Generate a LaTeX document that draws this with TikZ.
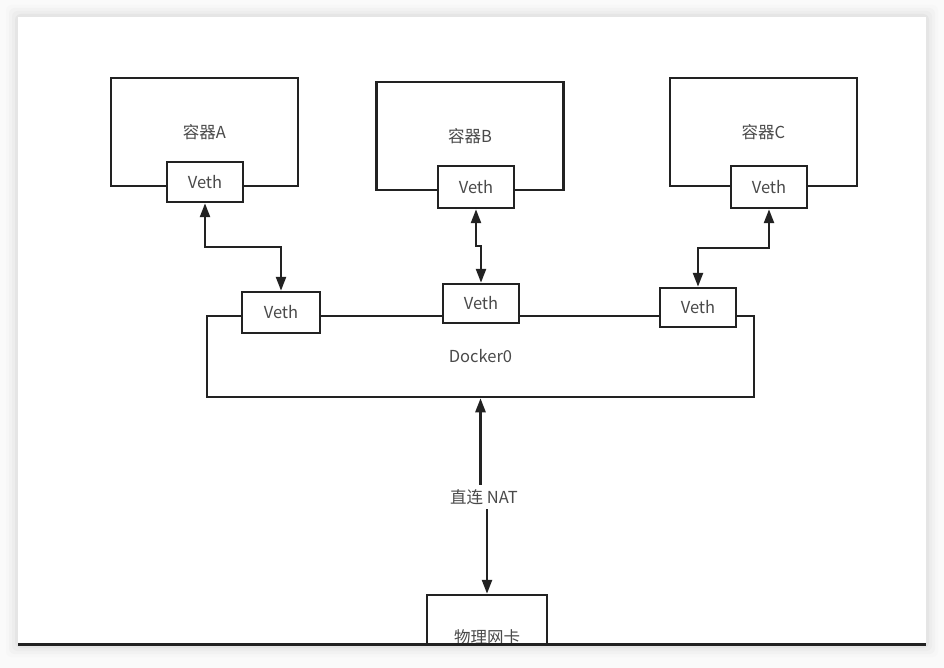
\documentclass[tikz,border=0pt]{standalone}
\usepackage{fontspec}
\setmainfont{Noto Sans CJK SC}
\usetikzlibrary{calc,arrows.meta,positioning}
\definecolor{lineGray}{HTML}{222222}
\definecolor{textGray}{HTML}{4a4a4a}
\tikzset{
myBox/.style={
	rectangle,draw=lineGray,fill=white,line width=2.5pt,
	inner sep=0pt,text=textGray,font=\fontsize{16.5}{20}\selectfont
}
, myContainer/.style={myBox,minimum width=187pt,minimum height=108pt}
, myVeth/.style={myBox,minimum width=76pt,minimum height=40pt}
, myLabel/.style={
	fill=white,inner sep=2pt,minimum height=24pt,
	text=textGray,font=\fontsize{16.5}{20}\selectfont
}
% link
, myLink/.style={{Triangle[width=10pt,length=14pt]}-{Triangle[width=10pt,length=14pt]},color=lineGray,line width=2.5pt}
, myArrow/.style={-{Triangle[width=10pt,length=14pt]},color=lineGray,line width=2.5pt}
}
\begin{document}
\begin{tikzpicture}[x=1pt,y=-1pt]
	\useasboundingbox (0,0) rectangle (944,668);
	% page and shadow
	\fill[black!2] (0,0) rectangle (944,668);
	\foreach \d/\c in {12/3,9/5,6/7,3/10}
		\fill[black!\c,rounded corners=6pt] (18-\d,17-\d) rectangle (926+\d,645+\d);
	\fill[white] (18,17) rectangle (926,645);
	% containers
	\node[myContainer] (ContA) at (204.5,132) {容器A};
	\node[myVeth] (VethA) at (205,182) {Veth};
	\node[myContainer] (ContB) at (470,136) {容器B};
	\node[myVeth,minimum height=42pt] (VethB) at (476,187) {Veth};
	\node[myContainer] (ContC) at (763.5,132) {容器C};
	\node[myVeth,minimum height=42pt] (VethC) at (769,187) {Veth};
	% bridge
	\node[myBox,minimum width=547pt,minimum height=81pt] (Docker0) at (480.5,356.5) {Docker0};
	\node[myVeth,minimum width=78pt,minimum height=41pt] (dVethA) at (281,312.5) {Veth};
	\node[myVeth,minimum height=39pt] (dVethB) at (481,303.5) {Veth};
	\node[myVeth,minimum height=39pt] (dVethC) at (698,307.5) {Veth};
	% physical card
	\begin{scope}
		\clip (0,0) rectangle (944,645);
		\node[myBox,minimum width=120pt,minimum height=84pt] (NIC) at (487,637) {物理网卡};
	\end{scope}
	\node[myLabel] (NAT) at (484,497) {直连 NAT};
	% links
	\draw [myLink] (VethA.south) |- ($(VethA.south)!.5!(dVethA.north)$) -| (dVethA.north);
	\draw [myLink] (VethB.south) |- ($(VethB.south)!.5!(dVethB.north)$) -| (dVethB.north);
	\draw [myLink] (VethC.south) |- ($(VethC.south)!.5!(dVethC.north)$) -| (dVethC.north);
	\draw [myArrow] (NAT.north -| Docker0.south) -- (Docker0.south);
	\draw [myArrow] (NAT.south -| NIC.north) -- (NIC.north);
	% bottom edge
	\draw[lineGray,line width=2.5pt] (18,644.5) -- (926,644.5);
\end{tikzpicture}
\end{document}
